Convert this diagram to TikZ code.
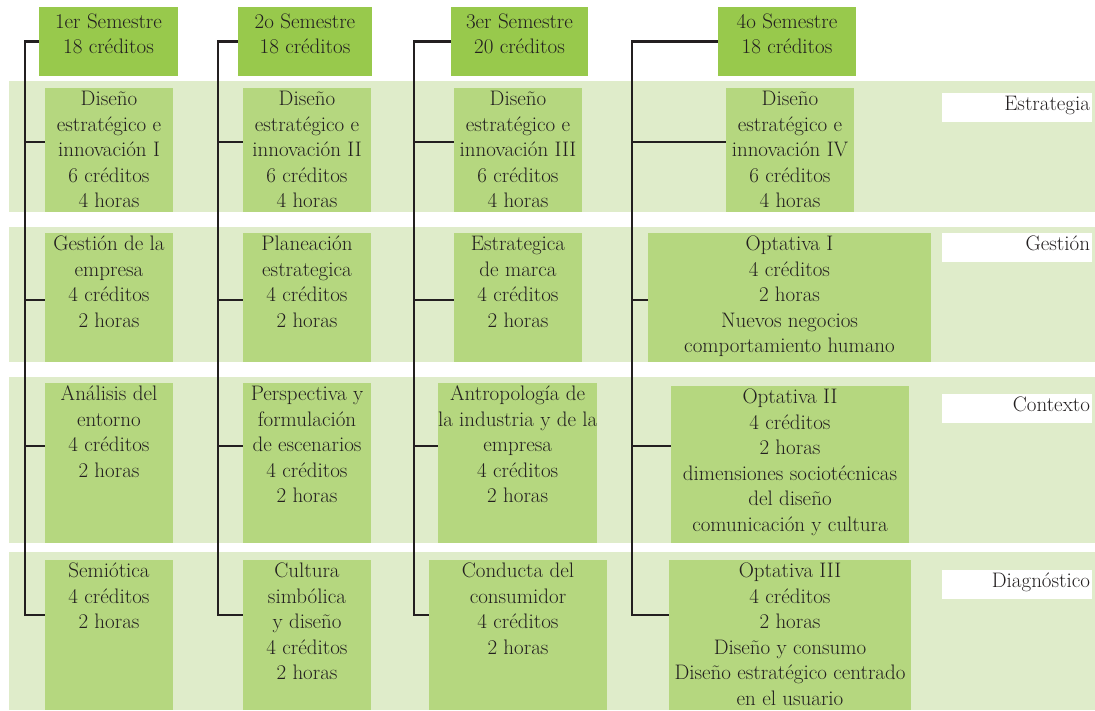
\documentclass[tikz,border=0pt]{standalone}
\usepackage{xcolor}

\definecolor{semgreen}{HTML}{98C94C}
\definecolor{crsgreen}{HTML}{B5D77F}
\definecolor{bandgreen}{HTML}{DFECCA}
\definecolor{ink}{HTML}{231F20}

% Box of fixed size whose centred lines start at the top
\newcommand{\cellbox}[4]{\parbox[c][#2][t]{#1}{\vspace*{#3}\centering\begin{tabular}[t]{@{}c@{}}#4\end{tabular}}}
% Narrow white tag with right-aligned text
\newcommand{\tagbox}[1]{\parbox[c][29pt][t]{150pt}{\raggedleft\begin{tabular}[t]{@{}r@{\hspace{2pt}}}#1\end{tabular}}}

\tikzset{
  cell/.style={inner sep=0pt, outer sep=0pt, anchor=north west, text=ink,
               font=\fontsize{21}{25.5}\selectfont},
  semhead/.style={cell, fill=semgreen},
  course/.style={cell, fill=crsgreen},
  areatag/.style={cell, fill=white},
  link/.style={draw=ink, line width=2.2pt, line join=miter}
}

\begin{document}
\begin{tikzpicture}[x=1pt, y=-1pt]
\useasboundingbox (0,0) rectangle (1095,710);

% area bands
\fill[bandgreen] (9,81)  rectangle (1095,212);
\fill[bandgreen] (9,227) rectangle (1095,362);
\fill[bandgreen] (9,377) rectangle (1095,543);
\fill[bandgreen] (9,552) rectangle (1095,710);

% semester headers
\node[semhead] (h1) at (39,7)  {\cellbox{139pt}{69pt}{3.6pt}{1er Semestre\\18 créditos}};
\node[semhead] (h2) at (238,7) {\cellbox{134pt}{69pt}{3.6pt}{2o Semestre\\18 créditos}};
\node[semhead] (h3) at (451,7) {\cellbox{137pt}{69pt}{3.6pt}{3er Semestre\\20 créditos}};
\node[semhead] (h4) at (718,7) {\cellbox{138pt}{69pt}{3.6pt}{4o Semestre\\18 créditos}};

% row 1: Estrategia
\node[course] (b11) at (45,88)  {\cellbox{128pt}{124pt}{0pt}{Diseño\\estratégico e\\innovación I\\6 créditos\\4 horas}};
\node[course] (b21) at (243,88) {\cellbox{128pt}{124pt}{0pt}{Diseño\\estratégico e\\innovación II\\6 créditos\\4 horas}};
\node[course] (b31) at (454,88) {\cellbox{128pt}{124pt}{0pt}{Diseño\\estratégico e\\innovación III\\6 créditos\\4 horas}};
\node[course] (b41) at (726,88) {\cellbox{128pt}{124pt}{0pt}{Diseño\\estratégico e\\innovación IV\\6 créditos\\4 horas}};

% row 2: Gestión
\node[course] (b12) at (45,233)  {\cellbox{128pt}{129pt}{0pt}{Gestión de la\\empresa\\4 créditos\\2 horas}};
\node[course] (b22) at (243,233) {\cellbox{128pt}{129pt}{0pt}{Planeación\\estrategica\\4 créditos\\2 horas}};
\node[course] (b32) at (454,233) {\cellbox{128pt}{129pt}{0pt}{Estrategica\\de marca\\4 créditos\\2 horas}};
\node[course] (b42) at (648,233) {\cellbox{283pt}{129pt}{0pt}{Optativa I\\4 créditos\\2 horas\\Nuevos negocios\\comportamiento humano}};

% row 3: Contexto
\node[course] (b13) at (45,383)  {\cellbox{128pt}{160pt}{0pt}{Análisis del\\entorno\\4 créditos\\2 horas}};
\node[course] (b23) at (243,383) {\cellbox{128pt}{160pt}{0pt}{Perspectiva y\\formulación\\de escenarios\\4 créditos\\2 horas}};
\node[course] (b33) at (438,383) {\cellbox{159pt}{160pt}{0pt}{Antropología de\\la industria y de la\\empresa\\4 créditos\\2 horas}};
\node[course] (b43) at (671,386) {\cellbox{238pt}{157pt}{0pt}{Optativa II\\4 créditos\\2 horas\\dimensiones sociotécnicas\\del diseño\\comunicación y cultura}};

% row 4: Diagnóstico
\node[course] (b14) at (45,560)  {\cellbox{128pt}{150pt}{0pt}{Semiótica\\4 créditos\\2 horas}};
\node[course] (b24) at (243,560) {\cellbox{128pt}{150pt}{0pt}{Cultura\\simbólica\\y diseño\\4 créditos\\2 horas}};
\node[course] (b34) at (429,560) {\cellbox{178pt}{150pt}{0pt}{Conducta del\\consumidor\\4 créditos\\2 horas}};
\node[course] (b44) at (669,560) {\cellbox{242pt}{150pt}{0pt}{Optativa III\\4 créditos\\2 horas\\Diseño y consumo\\Diseño estratégico centrado\\en el usuario}};

% area tags
\node[areatag] (tagE) at (942,93)  {\tagbox{Estrategia}};
\node[areatag] (tagG) at (942,233) {\tagbox{Gestión}};
\node[areatag] (tagC) at (942,394) {\tagbox{Contexto}};
\node[areatag] (tagD) at (942,570) {\tagbox{Diagnóstico}};

% semester spines and branches
\foreach \s/\x in {1/25,2/218,3/414,4/632}{
  \foreach \r/\y in {1/142,2/300,3/446,4/615}{
    \coordinate (k\s\r) at (\x,\y);
  }
  \draw[link] (h\s.west) -| (k\s4) -- (k\s4 -| b\s4.west);
  \foreach \r in {1,2,3}{
    \draw[link] (k\s\r) -- (k\s\r -| b\s\r.west);
  }
}
\end{tikzpicture}
\end{document}
